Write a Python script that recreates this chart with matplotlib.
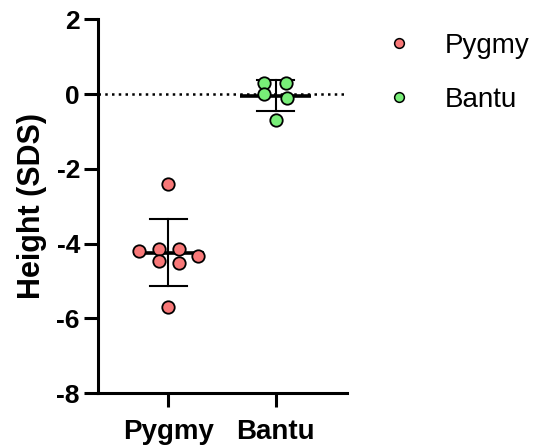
import numpy as np
import matplotlib.pyplot as plt
from matplotlib.lines import Line2D

plt.rcParams["font.family"] = ["Liberation Sans", "DejaVu Sans"]
plt.rcParams["axes.unicode_minus"] = False

# ── Data (height SDS per child) ───────────────────────────────────────────────
groups = ["Pygmy", "Bantu"]
pygmy = [-2.41, -4.20, -4.14, -4.14, -4.32, -4.47, -4.53, -5.71]
bantu = [0.30, 0.30, 0.01, -0.09, -0.70]
yticks = [-8, -6, -4, -2, 0, 2]

# horizontal scatter of the points inside each column
pygmy_jit = [0.0, -0.27, -0.09, 0.095, 0.28, -0.09, 0.095, 0.0]
bantu_jit = [-0.105, 0.10, -0.105, 0.105, 0.0]

colors = ["#F87878", "#78EE78"]

fig = plt.figure(figsize=(5.37, 4.46), dpi=100)
ax = fig.add_axes([0.1825, 0.1188, 0.4635, 0.8375])

ax.axhline(0, color="black", linestyle=(0, (1, 1.7)), linewidth=1.8, zorder=1)

for i, (vals, jit, col) in enumerate(zip([pygmy, bantu], [pygmy_jit, bantu_jit], colors)):
    vals = np.array(vals)
    m = vals.mean()
    sd = vals.std(ddof=1)
    # mean line, sd bar, caps
    ax.plot([i - 0.33, i + 0.33], [m, m], color="black", linewidth=2.6, zorder=2,
            solid_capstyle="butt")
    ax.plot([i, i], [m - sd, m + sd], color="black", linewidth=1.5, zorder=2)
    for y in (m - sd, m + sd):
        ax.plot([i - 0.17, i + 0.17], [y, y], color="black", linewidth=1.5, zorder=2)
    ax.scatter(i + np.array(jit), vals, s=80, color=col, edgecolor="black",
               linewidth=1.3, zorder=3)

ax.set_xlim(-0.655, 1.664)
ax.set_ylim(-8, 2)
ax.set_yticks(yticks)
ax.set_yticklabels([str(t) for t in yticks], fontsize=19, fontweight="bold")
ax.set_xticks([0, 1])
ax.set_xticklabels(groups, fontsize=20, fontweight="bold")
ax.set_ylabel("Height (SDS)", fontsize=22, fontweight="bold", labelpad=7)

for s in ["top", "right"]:
    ax.spines[s].set_visible(False)
for s in ["left", "bottom"]:
    ax.spines[s].set_linewidth(2.2)
ax.tick_params(axis="both", width=2.2, length=10)
ax.tick_params(axis="x", pad=9)
ax.tick_params(axis="y", pad=3)

handles = [Line2D([], [], marker="o", linestyle="none", markersize=7,
                  markerfacecolor=c, markeredgecolor="black", markeredgewidth=1.1)
           for c in colors]
fig.legend(handles, groups, loc="upper left", bbox_to_anchor=(0.717, 0.9265),
           frameon=False, fontsize=20, handlelength=1.0, handletextpad=1.16,
           labelspacing=1.0, borderpad=0, borderaxespad=0)

plt.savefig("out.png", dpi=100)
